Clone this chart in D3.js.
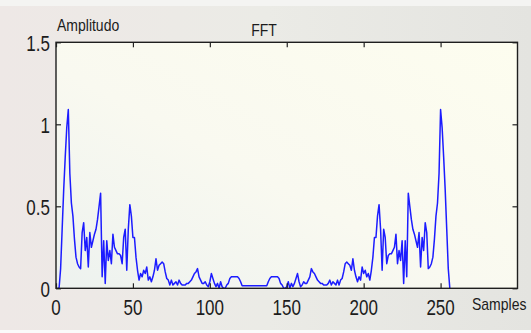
<!DOCTYPE html>
<html>
<head>
<meta charset="utf-8">
<script src="https://cdnjs.cloudflare.com/ajax/libs/d3/7.8.5/d3.min.js"></script>
<style>
  body { margin: 0; background: #ecebe7; }
  text { font-family: "Liberation Sans", Arial, sans-serif; fill: #1c1c1c; }
</style>
</head>
<body>
<svg id="chart" width="531" height="333"></svg>
<script>
// |FFT| of a 256 sample signal, index 1..256
var amplitude = [
  0, 0, 0.12, 0.36, 0.6, 0.8, 0.98, 1.09, 0.7, 0.52,
  0.44, 0.3, 0.19, 0.15, 0.13, 0.12, 0.34, 0.4, 0.23, 0.31,
  0.13, 0.34, 0.25, 0.29, 0.33, 0.36, 0.42, 0.5, 0.58, 0.07,
  0.29, 0.03, 0.29, 0.17, 0.23, 0.15, 0.33, 0.25, 0.23, 0.21,
  0.21, 0.2, 0.15, 0.31, 0.36, 0.11, 0.36, 0.51, 0.44, 0.31,
  0.31, 0.19, 0.11, 0.05, 0.09, 0.07, 0.11, 0.09, 0.13, 0.05,
  0.07, 0.04, 0.07, 0.11, 0.18, 0.11, 0.14, 0.15, 0.16, 0.15,
  0.1, 0.06, 0.05, 0.02, 0.05, 0.02, 0.03, 0.04, 0.02, 0.05,
  0.03, 0.02, 0.02, 0.02, 0.03, 0.03, 0.04, 0.05, 0.07, 0.09,
  0.1, 0.12, 0.07, 0.05, 0.03, 0.03, 0.04, 0.02, 0.01, 0.04,
  0.09, 0.06, 0.03, 0.01, 0.03, 0, 0.04, 0.01, 0, 0,
  0.02, 0.03, 0.06, 0.07, 0.07, 0.07, 0.07, 0.07, 0.06, 0.04,
  0.015, 0.015, 0.015, 0.015, 0.015, 0.015, 0.015, 0.015, 0.015,
  // upper half
  0.015, 0.015, 0.015, 0.015, 0.015, 0.015, 0.015, 0.015, 0.04, 0.06,
  0.07, 0.07, 0.07, 0.07, 0.07, 0.06, 0.03, 0.02, 0, 0,
  0.01, 0.04, 0, 0.03, 0.01, 0.03, 0.06, 0.09, 0.04, 0.01,
  0.02, 0.04, 0.03, 0.03, 0.05, 0.07, 0.12, 0.1, 0.09, 0.07,
  0.05, 0.04, 0.03, 0.03, 0.02, 0.02, 0.02, 0.03, 0.05, 0.02,
  0.04, 0.03, 0.02, 0.05, 0.02, 0.05, 0.06, 0.1, 0.15, 0.16,
  0.15, 0.14, 0.11, 0.18, 0.11, 0.07, 0.04, 0.07, 0.05, 0.13,
  0.09, 0.11, 0.07, 0.09, 0.05, 0.11, 0.19, 0.31, 0.31, 0.44,
  0.51, 0.36, 0.11, 0.36, 0.31, 0.15, 0.2, 0.21, 0.21, 0.23,
  0.25, 0.33, 0.15, 0.23, 0.17, 0.29, 0.03, 0.29, 0.07, 0.58,
  0.5, 0.42, 0.36, 0.33, 0.29, 0.25, 0.34, 0.13, 0.31, 0.23,
  0.4, 0.34, 0.12, 0.13, 0.15, 0.19, 0.3, 0.44, 0.52, 0.7,
  1.09, 0.98, 0.8, 0.6, 0.36, 0.12, 0
];
var xTicks = [0, 50, 100, 150, 200, 250];
var yTicks = [0, 0.5, 1, 1.5];
var yTickLabels = ["0", "0.5", "1", "1.5"];
var title = "FFT", xLabel = "Samples", yLabel = "Amplitudo";

var svg = d3.select("#chart");

var x = d3.scaleLinear().domain([0, 300]).range([56, 517.5]);
var y = d3.scaleLinear().domain([0, 1.5]).range([288.3, 42.3]);

// background
var defs = svg.append("defs");
var g1 = defs.append("linearGradient").attr("id", "plotbg")
  .attr("x1", "0").attr("y1", "1").attr("x2", "1").attr("y2", "0");
g1.append("stop").attr("offset", "0").attr("stop-color", "#edf2ef");
g1.append("stop").attr("offset", "0.45").attr("stop-color", "#f9f9f0");
g1.append("stop").attr("offset", "1").attr("stop-color", "#fdfdef");
var g2 = defs.append("linearGradient").attr("id", "outerbg")
  .attr("x1", "0").attr("y1", "0").attr("x2", "1").attr("y2", "0");
g2.append("stop").attr("offset", "0").attr("stop-color", "#eee8e6");
g2.append("stop").attr("offset", "0.5").attr("stop-color", "#ebebe6");
g2.append("stop").attr("offset", "1").attr("stop-color", "#e4e4e0");

svg.append("rect").attr("width", 531).attr("height", 333).attr("fill", "url(#outerbg)");
svg.append("rect").attr("width", 531).attr("height", 6).attr("fill", "#f4f4f2");
svg.append("rect").attr("y", 330).attr("width", 531).attr("height", 3).attr("fill", "#fafafa");

svg.append("rect")
  .attr("x", x(0)).attr("y", y(1.5))
  .attr("width", x(300) - x(0)).attr("height", y(0) - y(1.5))
  .attr("fill", "url(#plotbg)");

// signal
var line = d3.line()
  .x(function (d, i) { return x(i + 1) })
  .y(function (d) { return y(d) });

svg.append("path")
  .datum(amplitude)
  .attr("d", line)
  .attr("fill", "none")
  .attr("stroke", "#1c1cff")
  .attr("stroke-width", 1.5)
  .attr("stroke-linejoin", "round");

// ticks on all four sides, pointing in
function ticks(axis, tx, ty) {
  var g = svg.append("g").attr("transform", "translate(" + tx + "," + ty + ")").call(axis);
  g.select(".domain").remove();
  g.selectAll("text").remove();
  g.selectAll("line").attr("stroke", "#222").attr("stroke-width", 1.2);
}
ticks(d3.axisBottom(x).tickValues(xTicks).tickSize(-5), 0, y(0));
ticks(d3.axisTop(x).tickValues(xTicks).tickSize(-5), 0, y(1.5));
ticks(d3.axisLeft(y).tickValues(yTicks).tickSize(-5), x(0), 0);
ticks(d3.axisRight(y).tickValues(yTicks).tickSize(-5), x(300), 0);

// frame
svg.append("rect")
  .attr("x", x(0)).attr("y", y(1.5))
  .attr("width", x(300) - x(0)).attr("height", y(0) - y(1.5))
  .attr("fill", "none").attr("stroke", "#1e1e1e").attr("stroke-width", 1.4);

// tick labels (stretched tall like the picture)
svg.append("g").selectAll("text")
  .data(xTicks).enter().append("text")
  .attr("transform", function (d) { return "translate(" + x(d) + ",315) scale(1,1.35)" })
  .attr("text-anchor", "middle")
  .style("font-size", "17px")
  .text(function (d) { return d });

svg.append("g").selectAll("text")
  .data(yTicks).enter().append("text")
  .attr("transform", function (d) { return "translate(50," + (y(d) + 8.2) + ") scale(1,1.35)" })
  .attr("text-anchor", "end")
  .style("font-size", "17px")
  .text(function (d, i) { return yTickLabels[i] });

// labels
svg.append("text")
  .attr("transform", "translate(57,31) scale(1,1.15)")
  .style("font-size", "14px")
  .text(yLabel);

svg.append("text")
  .attr("transform", "translate(264,36) scale(1,1.15)")
  .attr("text-anchor", "middle")
  .style("font-size", "14px")
  .text(title);

svg.append("text")
  .attr("transform", "translate(472,310) scale(1,1.15)")
  .style("font-size", "14px")
  .text(xLabel);
</script>
</body>
</html>
